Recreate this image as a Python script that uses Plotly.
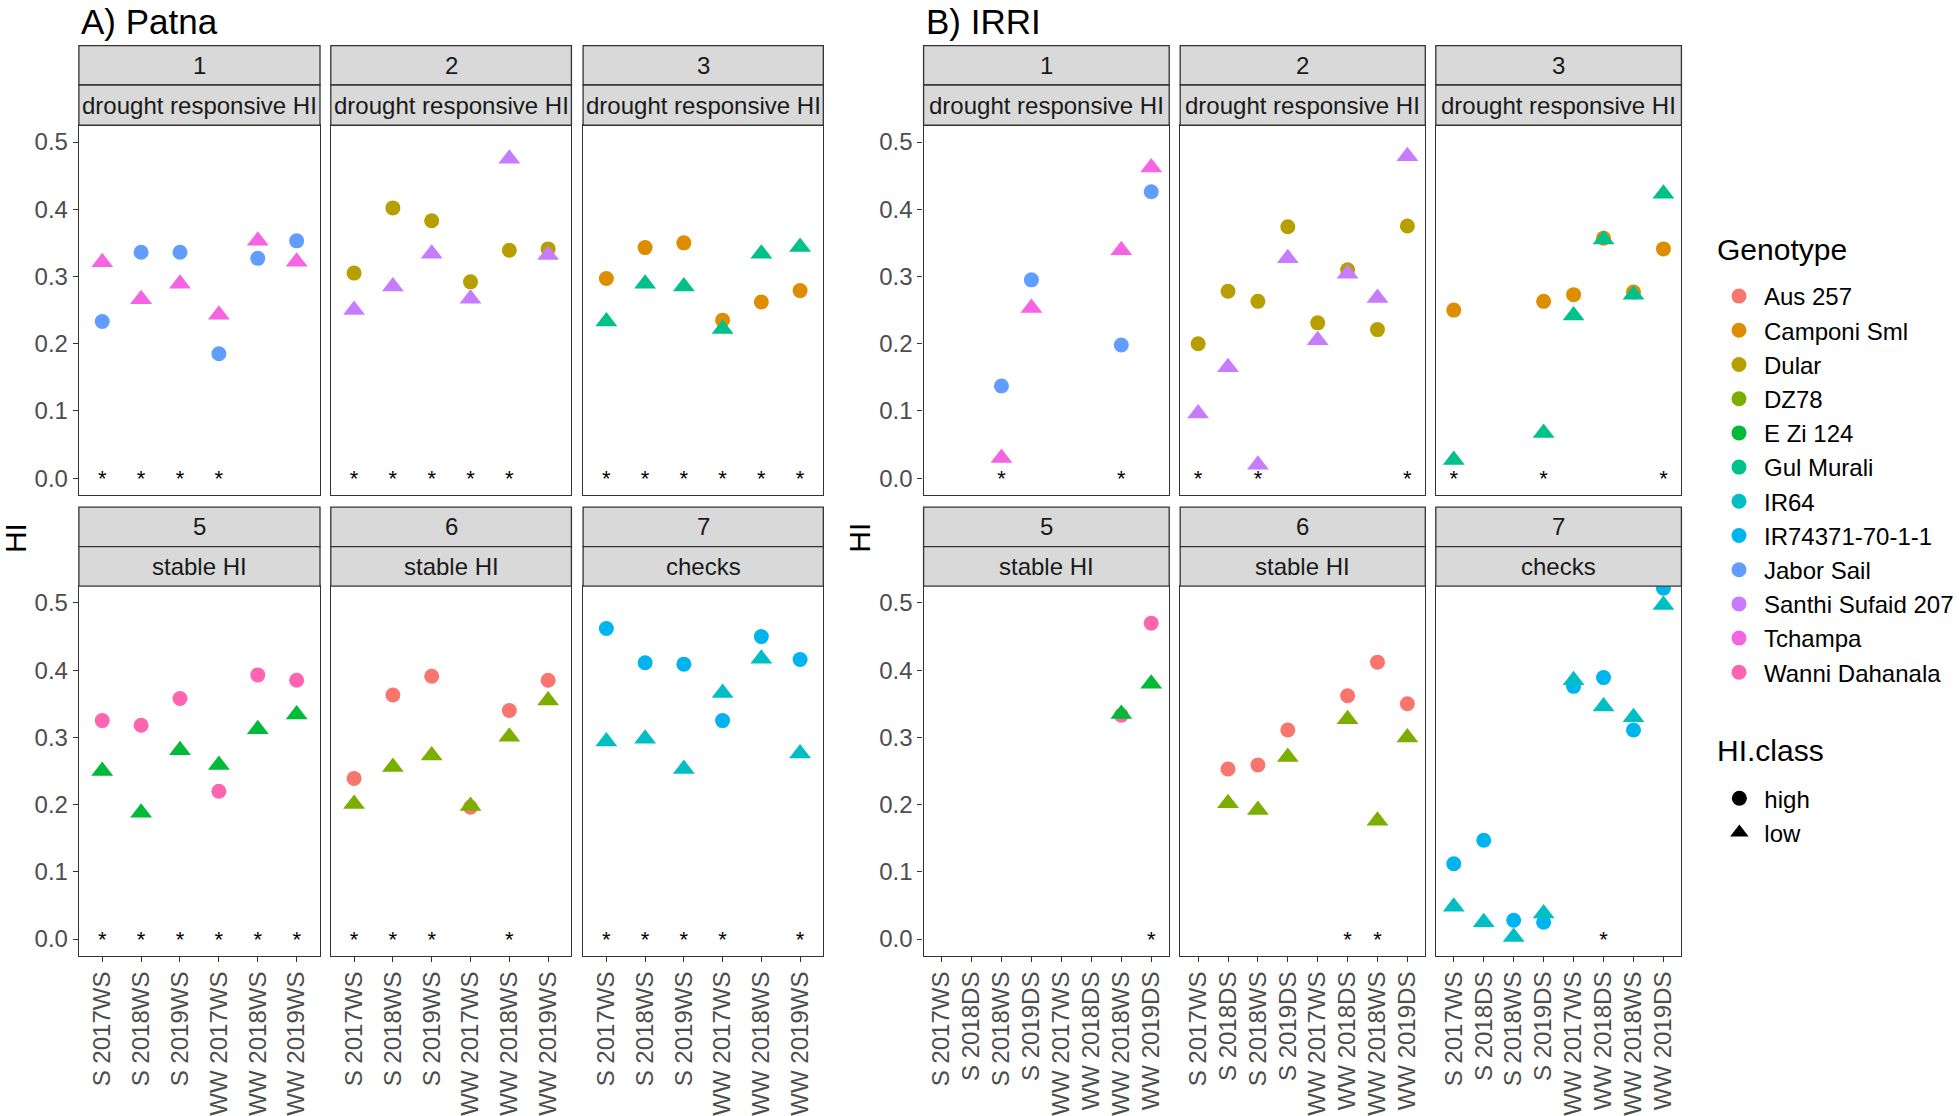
import plotly.graph_objects as go

W, H = 1959, 1116

# ---------------- data ----------------
PATNA_CATS = ["S 2017WS", "S 2018WS", "S 2019WS", "WW 2017WS", "WW 2018WS", "WW 2019WS"]
IRRI_CATS = ["S 2017WS", "S 2018DS", "S 2018WS", "S 2019DS",
             "WW 2017WS", "WW 2018DS", "WW 2018WS", "WW 2019DS"]
PANEL_NUMBERS = ["1", "2", "3", "5", "6", "7"]
PANEL_LABELS = ["drought responsive HI", "drought responsive HI", "drought responsive HI",
                "stable HI", "stable HI", "checks"]
GENOTYPES = ["Aus 257", "Camponi Sml", "Dular", "DZ78", "E Zi 124", "Gul Murali", "IR64",
             "IR74371-70-1-1", "Jabor Sail", "Santhi Sufaid 207", "Tchampa", "Wanni Dahanala"]
HI_CLASSES = ["high", "low"]
# (high genotype, low genotype) shown in each panel
PANEL_GENOTYPES = [("Jabor Sail", "Tchampa"), ("Dular", "Santhi Sufaid 207"),
                   ("Camponi Sml", "Gul Murali"), ("Wanni Dahanala", "E Zi 124"),
                   ("Aus 257", "DZ78"), ("IR74371-70-1-1", "IR64")]
Y_TICKS = [0.0, 0.1, 0.2, 0.3, 0.4, 0.5]
Y_TICK_LABELS = ["0.0", "0.1", "0.2", "0.3", "0.4", "0.5"]

# Patna (categories = PATNA_CATS)
patna_p1_jabor_sail = [0.233, 0.336, 0.336, 0.185, 0.327, 0.353]
patna_p1_tchampa = [0.321, 0.266, 0.289, 0.243, 0.353, 0.322]
patna_p1_star = [1, 1, 1, 1, 0, 0]
patna_p2_dular = [0.305, 0.402, 0.383, 0.292, 0.339, 0.341]
patna_p2_santhi = [0.250, 0.285, 0.334, 0.267, 0.475, 0.332]
patna_p2_star = [1, 1, 1, 1, 1, 0]
patna_p3_camponi = [0.297, 0.343, 0.350, 0.235, 0.262, 0.279]
patna_p3_gul_murali = [0.233, 0.289, 0.285, 0.222, 0.334, 0.344]
patna_p3_star = [1, 1, 1, 1, 1, 1]
patna_p5_wanni = [0.325, 0.318, 0.358, 0.220, 0.393, 0.385]
patna_p5_ezi124 = [0.250, 0.188, 0.281, 0.259, 0.312, 0.334]
patna_p5_star = [1, 1, 1, 1, 1, 1]
patna_p6_aus257 = [0.239, 0.363, 0.391, 0.196, 0.340, 0.385]
patna_p6_dz78 = [0.201, 0.256, 0.273, 0.198, 0.301, 0.355]
patna_p6_star = [1, 1, 1, 0, 1, 0]
patna_p7_ir74371 = [0.462, 0.411, 0.409, 0.325, 0.450, 0.416]
patna_p7_ir64 = [0.294, 0.298, 0.253, 0.366, 0.417, 0.276]
patna_p7_star = [1, 1, 1, 1, 0, 1]

# IRRI (categories = IRRI_CATS)
irri_p1_jabor_sail = [None, None, 0.137, 0.295, None, None, 0.198, 0.426]
irri_p1_tchampa = [None, None, 0.030, 0.253, None, None, 0.339, 0.462]
irri_p1_star = [0, 0, 1, 0, 0, 0, 1, 0]
irri_p2_dular = [0.200, 0.278, 0.263, 0.374, 0.231, 0.310, 0.221, 0.375]
irri_p2_santhi = [0.096, 0.165, 0.020, 0.327, 0.205, 0.304, 0.268, 0.479]
irri_p2_star = [1, 0, 1, 0, 0, 0, 0, 1]
irri_p3_camponi = [0.250, None, None, 0.263, 0.273, 0.357, 0.277, 0.341]
irri_p3_gul_murali = [0.027, None, None, 0.067, 0.242, 0.355, 0.273, 0.423]
irri_p3_star = [1, 0, 0, 1, 0, 0, 0, 1]
irri_p5_wanni = [None, None, None, None, None, None, 0.333, 0.470]
irri_p5_ezi124 = [None, None, None, None, None, None, 0.335, 0.380]
irri_p5_star = [0, 0, 0, 0, 0, 0, 0, 1]
irri_p6_aus257 = [None, 0.253, 0.259, 0.311, None, 0.362, 0.412, 0.350]
irri_p6_dz78 = [None, 0.202, 0.192, 0.271, None, 0.327, 0.176, 0.300]
irri_p6_star = [0, 0, 0, 0, 0, 1, 1, 0]
irri_p7_ir74371 = [0.112, 0.147, 0.028, 0.025, 0.376, 0.389, 0.311, 0.522]
irri_p7_ir64 = [0.048, 0.025, 0.003, 0.038, 0.385, 0.346, 0.330, 0.497]
irri_p7_star = [0, 0, 0, 0, 0, 1, 0, 0]

SITES = [
    dict(title="A) Patna", cats=PATNA_CATS,
         high=[patna_p1_jabor_sail, patna_p2_dular, patna_p3_camponi,
               patna_p5_wanni, patna_p6_aus257, patna_p7_ir74371],
         low=[patna_p1_tchampa, patna_p2_santhi, patna_p3_gul_murali,
              patna_p5_ezi124, patna_p6_dz78, patna_p7_ir64],
         stars=[patna_p1_star, patna_p2_star, patna_p3_star,
                patna_p5_star, patna_p6_star, patna_p7_star]),
    dict(title="B) IRRI", cats=IRRI_CATS,
         high=[irri_p1_jabor_sail, irri_p2_dular, irri_p3_camponi,
               irri_p5_wanni, irri_p6_aus257, irri_p7_ir74371],
         low=[irri_p1_tchampa, irri_p2_santhi, irri_p3_gul_murali,
              irri_p5_ezi124, irri_p6_dz78, irri_p7_ir64],
         stars=[irri_p1_star, irri_p2_star, irri_p3_star,
                irri_p5_star, irri_p6_star, irri_p7_star]),
]

# ---------------- styles / geometry ----------------
GENOTYPE_COLORS = ["#F8766D", "#DE8C00", "#B79F00", "#7CAE00", "#00BA38", "#00C08B",
                   "#00BFC4", "#00B4F0", "#619CFF", "#C77CFF", "#F564E3", "#FF64B0"]
COLOR_OF = dict(zip(GENOTYPES, GENOTYPE_COLORS))
SYMBOL_OF = {"high": "circle", "low": "triangle-up"}
SIZE_OF = {"high": 15, "low": 19}
FONT = "Liberation Sans, Arial, sans-serif"
DARK = "#333333"

SITE_COLS = [[(79, 320.5), (331.3, 572.3), (584, 824.6)],
             [(925, 1171), (1182, 1427.5), (1438, 1684)]]
ROWS = [dict(s_top=45.7, s_mid=85.3, p_top=125.7, p_bot=496.7),
        dict(s_top=509.0, s_mid=548.5, p_top=588.3, p_bot=959.3)]
Y_TITLE_X = [15, 860]
SITE_TITLE_X = [79, 925]


def px(x):
    return x / W


def py(y):
    return 1 - y / H


fig = go.Figure()
layout = dict(width=W, height=H, margin=dict(l=0, r=0, t=0, b=0, pad=0),
              paper_bgcolor="white", plot_bgcolor="white",
              font=dict(family=FONT, size=24, color="#4D4D4D"),
              showlegend=True)
shapes = []
annotations = []

for s, site in enumerate(SITES):
    cats = site["cats"]
    n = len(cats)
    for p in range(6):
        idx = s * 6 + p + 1
        row, col = divmod(p, 3)
        x0, x1 = SITE_COLS[s][col]
        r = ROWS[row]
        xname = "xaxis" if idx == 1 else f"xaxis{idx}"
        yname = "yaxis" if idx == 1 else f"yaxis{idx}"
        xref = "x" if idx == 1 else f"x{idx}"
        yref = "y" if idx == 1 else f"y{idx}"
        bottom = row == 1
        left = col == 0
        layout[xname] = dict(
            domain=[px(x0), px(x1)], anchor=yref, type="category",
            categoryorder="array", categoryarray=cats, range=[-0.6, n - 0.4],
            showgrid=False, zeroline=False, showline=True, mirror=True,
            linecolor=DARK, linewidth=1.3,
            ticks="outside" if bottom else "", ticklen=5, tickwidth=1.3, tickcolor=DARK,
            showticklabels=bottom, tickangle=-90,
            tickfont=dict(family=FONT, size=24, color="#4D4D4D"),
            tickmode="array", tickvals=cats, ticktext=cats)
        layout[yname] = dict(
            domain=[py(r["p_bot"]), py(r["p_top"])], anchor=xref,
            range=[-0.025, 0.525], showgrid=False, zeroline=False,
            showline=True, mirror=True, linecolor=DARK, linewidth=1.3,
            ticks="outside" if left else "", ticklen=5, tickwidth=1.3, tickcolor=DARK,
            showticklabels=left, tickmode="array", tickvals=Y_TICKS, ticktext=Y_TICK_LABELS,
            tickfont=dict(family=FONT, size=24, color="#4D4D4D"))

        # strips
        for (t, b, label) in [(r["s_top"], r["s_mid"], PANEL_NUMBERS[p]),
                              (r["s_mid"], r["p_top"], PANEL_LABELS[p])]:
            shapes.append(dict(type="rect", xref="paper", yref="paper",
                               x0=px(x0), x1=px(x1), y0=py(b), y1=py(t),
                               fillcolor="#D9D9D9", line=dict(color=DARK, width=1.3),
                               layer="above"))
            annotations.append(dict(xref="paper", yref="paper",
                                    x=px((x0 + x1) / 2), y=py((t + b) / 2),
                                    text=label, showarrow=False,
                                    xanchor="center", yanchor="middle",
                                    font=dict(family=FONT, size=24, color="#1A1A1A")))

        # points
        g_high, g_low = PANEL_GENOTYPES[p]
        for cls, g, vals in [("high", g_high, site["high"][p]), ("low", g_low, site["low"][p])]:
            fig.add_trace(go.Scatter(
                x=cats, y=vals, mode="markers", xaxis=xref, yaxis=yref,
                marker=dict(color=COLOR_OF[g], symbol=SYMBOL_OF[cls], size=SIZE_OF[cls],
                            line=dict(width=0)),
                name=g, showlegend=False, hoverinfo="skip"))

        # significance stars
        star_x = [c for c, st in zip(cats, site["stars"][p]) if st]
        fig.add_trace(go.Scatter(
            x=star_x, y=[-0.004] * len(star_x), mode="text", text=["*"] * len(star_x),
            textposition="middle center", xaxis=xref, yaxis=yref,
            textfont=dict(family=FONT, size=22, color="black"),
            showlegend=False, hoverinfo="skip"))

    # site title and y title
    annotations.append(dict(xref="paper", yref="paper", x=px(SITE_TITLE_X[s]), y=1.0,
                            text=site["title"], showarrow=False, xanchor="left",
                            yanchor="top", font=dict(family=FONT, size=35, color="black")))
    annotations.append(dict(xref="paper", yref="paper", x=px(Y_TITLE_X[s]), y=py(540),
                            text="HI", showarrow=False, textangle=-90,
                            xanchor="center", yanchor="middle",
                            font=dict(family=FONT, size=30, color="black")))

# legend titles
annotations.append(dict(xref="paper", yref="paper", x=px(1718), y=py(250), text="Genotype",
                        showarrow=False, xanchor="left", yanchor="middle",
                        font=dict(family=FONT, size=30, color="black")))
annotations.append(dict(xref="paper", yref="paper", x=px(1718), y=py(753), text="HI.class",
                        showarrow=False, xanchor="left", yanchor="middle",
                        font=dict(family=FONT, size=30, color="black")))

# legend-only traces
for g in GENOTYPES:
    fig.add_trace(go.Scatter(x=[None], y=[None], mode="markers", name=g,
                             marker=dict(color=COLOR_OF[g], symbol="circle", size=15),
                             legend="legend", showlegend=True, xaxis="x", yaxis="y"))
for cls in HI_CLASSES:
    fig.add_trace(go.Scatter(x=[None], y=[None], mode="markers", name=cls,
                             marker=dict(color="black", symbol=SYMBOL_OF[cls], size=SIZE_OF[cls]),
                             legend="legend2", showlegend=True, xaxis="x", yaxis="y"))

layout["legend"] = dict(x=px(1717), y=py(275), xanchor="left", yanchor="top",
                        font=dict(family=FONT, size=24, color="black"), itemwidth=40,
                        bgcolor="rgba(0,0,0,0)", borderwidth=0)
layout["legend2"] = dict(x=px(1717), y=py(779), xanchor="left", yanchor="top",
                         font=dict(family=FONT, size=24, color="black"), itemwidth=40,
                         bgcolor="rgba(0,0,0,0)", borderwidth=0)
layout["shapes"] = shapes
layout["annotations"] = annotations
fig.update_layout(**layout)

fig.write_html("out.html", config={"displayModeBar": False},
               post_script="document.body.style.margin='0px';"
                           "document.body.style.overflow='hidden';")
